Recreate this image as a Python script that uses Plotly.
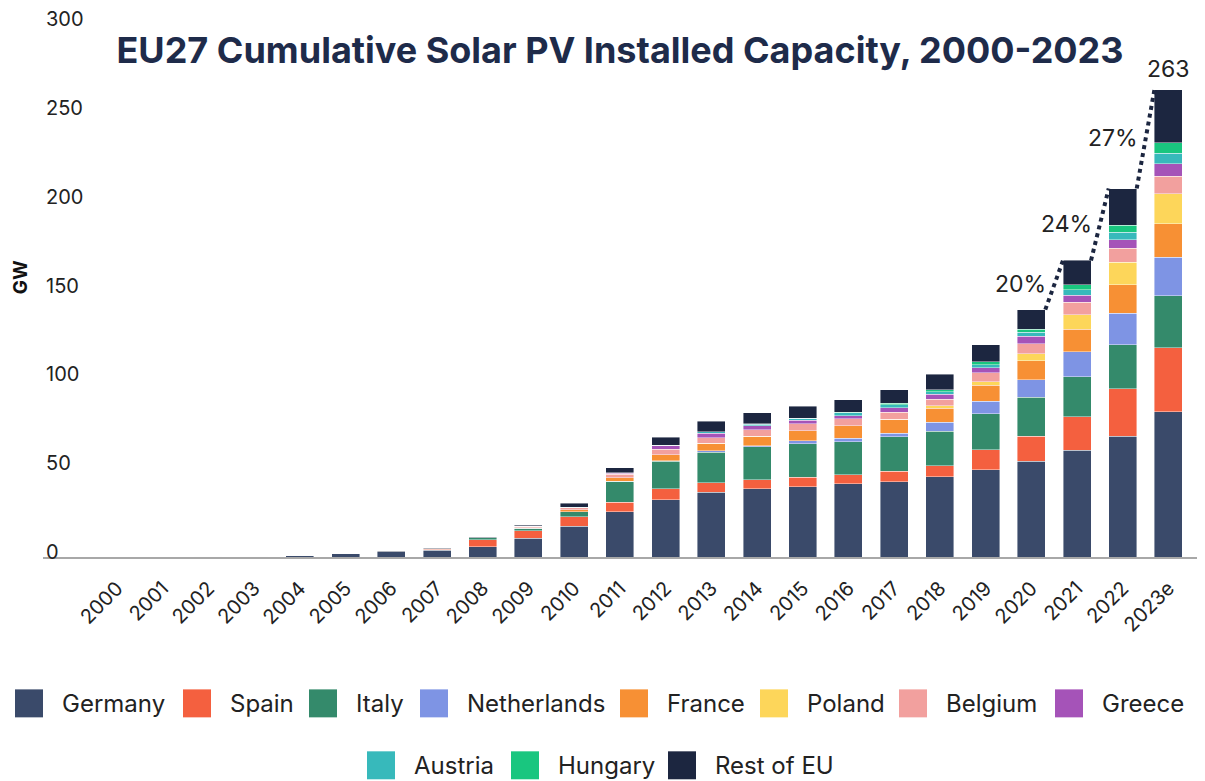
import plotly.graph_objects as go

# ── dados (GW acumulados) ────────────────────────────────────────────────────
years = ["2000", "2001", "2002", "2003", "2004", "2005", "2006", "2007",
         "2008", "2009", "2010", "2011", "2012", "2013", "2014", "2015",
         "2016", "2017", "2018", "2019", "2020", "2021", "2022", "2023e"]

germany = [0.1, 0.2, 0.3, 0.4, 1.0, 2.0, 2.9, 3.8, 5.9, 10.6, 17.3, 25.4,
           32.3, 36.5, 38.4, 39.5, 41.3, 42.3, 45.1, 49.2, 53.9, 60.1, 67.9, 81.8]
spain = [0, 0, 0, 0, 0, 0, 0.1, 0.7, 3.8, 4.3, 5.3, 5.4,
         6.0, 5.3, 5.2, 5.4, 4.9, 6.0, 6.3, 11.3, 14.0, 18.9, 26.9, 35.9]
italy = [0, 0, 0, 0, 0, 0, 0, 0.1, 1.1, 1.3, 2.8, 11.7,
         15.6, 17.2, 18.4, 18.9, 18.8, 19.3, 19.3, 20.2, 22.0, 22.5, 24.7, 29.4]
netherlands = [0, 0, 0, 0, 0, 0, 0, 0, 0, 0, 0.1, 0.1,
               0.3, 0.9, 0.5, 1.6, 1.8, 2.1, 5.2, 6.9, 9.9, 14.1, 17.8, 21.7]
france = [0, 0, 0, 0, 0, 0, 0, 0, 0.1, 0.3, 1.2, 2.0,
          3.4, 4.1, 5.6, 5.6, 7.0, 7.8, 7.9, 9.0, 10.7, 12.5, 15.8, 18.8]
poland = [0, 0, 0, 0, 0, 0, 0, 0, 0, 0, 0, 0,
          0, 0, 0, 0, 0, 0.1, 1.3, 2.1, 4.0, 8.3, 12.9, 16.8]
belgium = [0, 0, 0, 0, 0, 0, 0, 0, 0, 0.6, 0.9, 1.9,
           3.0, 3.0, 3.4, 4.0, 3.9, 3.9, 3.7, 5.1, 5.6, 6.9, 7.9, 9.8]
greece = [0, 0, 0, 0, 0, 0, 0, 0, 0, 0.1, 0.2, 0.6,
          1.9, 2.6, 2.5, 2.0, 1.9, 2.6, 2.8, 2.6, 4.1, 3.9, 4.7, 7.1]
austria = [0, 0, 0, 0, 0, 0, 0, 0, 0, 0, 0.1, 0.2,
           0.3, 0.9, 0.8, 1.1, 1.6, 1.7, 1.5, 1.9, 2.2, 3.3, 4.1, 6.0]
hungary = [0, 0, 0, 0, 0, 0, 0, 0, 0, 0, 0, 0,
           0, 0, 0.1, 0.1, 0.4, 0.8, 1.1, 1.5, 1.9, 2.6, 3.9, 6.0]
rest_of_eu = [0, 0, 0, 0, 0, 0, 0.1, 0.2, 0.2, 0.6, 2.4, 2.8,
              4.6, 5.8, 6.2, 6.7, 7.0, 7.5, 8.8, 9.7, 10.9, 13.8, 20.8, 29.7]

series_names = ["Germany", "Spain", "Italy", "Netherlands", "France", "Poland",
                "Belgium", "Greece", "Austria", "Hungary", "Rest of EU"]
series_values = [germany, spain, italy, netherlands, france, poland,
                 belgium, greece, austria, hungary, rest_of_eu]
series_colors = ["#3a4a6a", "#f4603f", "#348a6b", "#7e94e4", "#f79034", "#fdd65a",
                 "#f2a09e", "#a553b8", "#37b9bb", "#19c67f", "#1c2640"]

# crescimento anual indicado nos últimos anos
growth_from = ["2020", "2021", "2022"]
growth_labels = ["20%", "24%", "27%"]

FONT = "Inter"
TEXT = "#222222"
NAVY = "#1c2640"

totals = [round(sum(v[i] for v in series_values), 1) for i in range(len(years))]

fig = go.Figure()

for name, vals, col in zip(series_names, series_values, series_colors):
    fig.add_trace(go.Bar(
        x=years, y=vals, name=name,
        marker=dict(color=col, line=dict(color="rgba(255,255,255,0.7)", width=0.6)),
        showlegend=False,
    ))

# linhas pontilhadas entre os topos das barras
half = (1 - 0.387) / 2
for y0_lbl in growth_from:
    i = years.index(y0_lbl)
    fig.add_shape(type="line", xref="x", yref="y",
                  x0=i + half, y0=totals[i], x1=i + 1 - half, y1=totals[i + 1],
                  line=dict(color=NAVY, width=4, dash="dot"))

# rótulos de crescimento (x numérico: "2020" seria lido como índice)
for y0_lbl, txt in zip(growth_from, growth_labels):
    i = years.index(y0_lbl)
    fig.add_annotation(x=i, y=(totals[i] + totals[i + 1]) / 2,
                       text=txt, showarrow=False, xanchor="right", yanchor="middle",
                       xshift=17, yshift=1, font=dict(family=FONT, size=23, color=TEXT))

fig.add_annotation(x=len(years) - 1, y=totals[-1], text=f"{totals[-1]:.0f}",
                   showarrow=False, yanchor="bottom", yshift=5,
                   font=dict(family=FONT, size=23, color=TEXT))

# a página tem margem de 8px no body: tudo em px é deslocado por isso
W, H = 1205, 781
OFF = 8
ML, MT = 43 - OFF, 24 - OFF
MR = 8
MB = H - (557.5 - OFF)
pw, ph = W - ML - MR, H - MT - MB


def px_x(p):
    return (p - OFF - ML) / pw


def px_y(p):
    return (H - MB - (p - OFF)) / ph


# legenda manual (quadrados grandes como no original)
leg_left = [15, 183, 309, 420, 620, 760, 899, 1055, 367, 511, 668]
leg_row_y = [704] * 8 + [766] * 3
for name, col, lx, cy in zip(series_names, series_colors, leg_left, leg_row_y):
    fig.add_shape(type="rect", xref="paper", yref="paper",
                  x0=px_x(lx), x1=px_x(lx + 28), y0=px_y(cy - 14), y1=px_y(cy + 14),
                  fillcolor=col, line=dict(width=0))
    fig.add_annotation(xref="paper", yref="paper", x=px_x(lx + 45), y=px_y(cy),
                       text=name, showarrow=False, xanchor="left", yanchor="middle",
                       font=dict(family=FONT, size=24, color=TEXT))

# título do eixo y como anotação (fica um pouco acima do centro no original)
fig.add_annotation(xref="paper", yref="paper", x=px_x(20), y=px_y(277.5),
                   text="GW", textangle=-90, showarrow=False,
                   xanchor="center", yanchor="middle",
                   font=dict(family=FONT, size=19, color="#111111", weight=700))

fig.update_layout(
    barmode="stack",
    bargap=0.387,
    width=W, height=H,
    margin=dict(l=ML, r=MR, t=MT, b=MB, autoexpand=False),
    plot_bgcolor="white", paper_bgcolor="white",
    font=dict(family=FONT, color=TEXT),
    title=dict(text="EU27 Cumulative Solar PV Installed Capacity, 2000-2023",
               x=(620 - OFF) / W, xanchor="center",
               y=1 - (50 - OFF) / H, yanchor="middle", yref="container",
               font=dict(family=FONT, size=36, color="#1e2b4a", weight=700)),
)

fig.update_xaxes(type="category", range=[-1.62, 23.8], tickangle=-45,
                 showline=True, linecolor="#a8a8a8", linewidth=1.5,
                 ticks="", showgrid=False, automargin=False, ticklabelstandoff=10,
                 tickfont=dict(family=FONT, size=20, color=TEXT))
fig.update_yaxes(range=[0, 300], tickvals=[0, 50, 100, 150, 200, 250, 300],
                 ticklabelposition="inside top", ticklabeloverflow="allow",
                 ticklabelshift=9,
                 showgrid=False, zeroline=False, showline=False, ticks="",
                 automargin=False,
                 tickfont=dict(family=FONT, size=20, color=TEXT))

fig.write_html("out.html")
